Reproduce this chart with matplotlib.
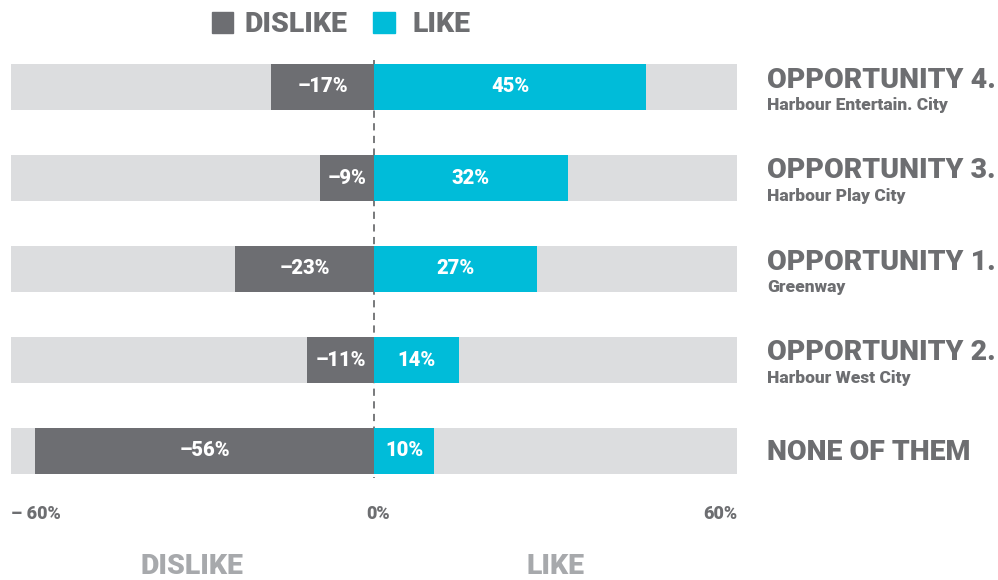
import numpy as np
import matplotlib.pyplot as plt

# survey results, top row first
titles = ["OPPORTUNITY 4.", "OPPORTUNITY 3.", "OPPORTUNITY 1.", "OPPORTUNITY 2.", "NONE OF THEM"]
subtitles = ["Harbour Entertain. City", "Harbour Play City", "Greenway", "Harbour West City", ""]
dislike = [-17, -9, -23, -11, -56]
like = [45, 32, 27, 14, 10]
tick_vals = [-60, 0, 60]
tick_labels = ["\u2013 60%", "0%", "60%"]

grey_dark = "#6d6e72"
cyan = "#00bcd9"
bg = "#dcdddf"
text_grey = "#6d6e71"
light_grey = "#a7a9ac"

plt.rcParams['font.family'] = ['Roboto', 'DejaVu Sans']
HEAVY = 900

W, H = 998, 580
fig = plt.figure(figsize=(W / 100, H / 100), dpi=100)
# axes in pixel terms: x 11..737, rows centred 87..451 (91 px apart)
ax = fig.add_axes([11 / W, 1 - 496.5 / H, 726 / W, 455 / H])

y = np.arange(len(titles))
h = 46 / 91
ax.barh(y, [120] * len(y), left=-60, height=h, color=bg, zorder=1)
ax.barh(y, dislike, height=h, color=grey_dark, zorder=3)
ax.barh(y, like, height=h, color=cyan, zorder=3)

for i in y:
    ax.text(dislike[i] / 2, i, "\u2013%d%%" % abs(dislike[i]), color="white",
            fontsize=14.5, fontweight=HEAVY, ha="center", va="center", zorder=4)
    ax.text(like[i] / 2, i, "%d%%" % like[i], color="white",
            fontsize=14.5, fontweight=HEAVY, ha="center", va="center", zorder=4)

ax.plot([0, 0], [-0.3, 4.3], ls=(0, (4, 3)), color=text_grey, lw=1.3, zorder=2)

ax.set_xlim(-60, 60)
ax.set_ylim(4.5, -0.5)
ax.axis("off")

# right hand labels
for i in y:
    ypix = 87 + 91 * i
    if subtitles[i]:
        fig.text(767 / W, 1 - (ypix - 7) / H, titles[i], color=text_grey, fontsize=20.5,
                 fontweight=HEAVY, ha="left", va="center")
        fig.text(767 / W, 1 - (ypix + 18) / H, subtitles[i], color=text_grey, fontsize=12.5,
                 fontweight=HEAVY, ha="left", va="center")
    else:
        fig.text(767 / W, 1 - (ypix + 2) / H, titles[i], color=text_grey, fontsize=20.5,
                 fontweight=HEAVY, ha="left", va="center")

# x tick labels
for v, lab in zip(tick_vals, tick_labels):
    xp = 11 + (v + 60) / 120 * 726
    ha = {-60: "left", 0: "left", 60: "right"}[v]
    if v == 0:
        xp = 366
    fig.text(xp / W, 1 - 514 / H, lab, color=text_grey, fontsize=13,
             fontweight=HEAVY, ha=ha, va="center")

# bottom side labels
fig.text(192 / W, 1 - 566 / H, "DISLIKE", color=light_grey, fontsize=20.5,
         fontweight=HEAVY, ha="center", va="center")
fig.text(555 / W, 1 - 566 / H, "LIKE", color=light_grey, fontsize=20.5,
         fontweight=HEAVY, ha="center", va="center")

# legend on top
fig.patches.append(plt.Rectangle((212 / W, 1 - 33 / H), 21 / W, 21 / H,
                                 transform=fig.transFigure, color=grey_dark))
fig.text(245 / W, 1 - 24 / H, "DISLIKE", color=text_grey, fontsize=20.5,
         fontweight=HEAVY, ha="left", va="center")
fig.patches.append(plt.Rectangle((373 / W, 1 - 33 / H), 22 / W, 21 / H,
                                 transform=fig.transFigure, color=cyan))
fig.text(412 / W, 1 - 24 / H, "LIKE", color=text_grey, fontsize=20.5,
         fontweight=HEAVY, ha="left", va="center")

fig.savefig("out.png", dpi=100)
